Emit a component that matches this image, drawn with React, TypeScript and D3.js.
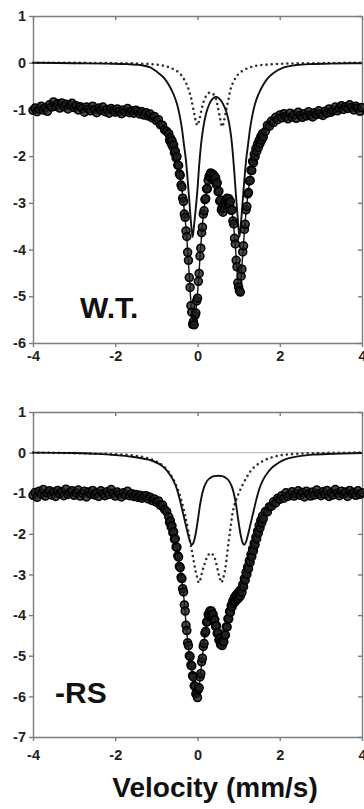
import { useEffect, useRef } from 'react'
import * as d3 from 'd3'

type Pt = [number, number]

const FONT = '"Liberation Sans", Arial, Helvetica, sans-serif'
const velocityTicks = [-4, -2, 0, 2, 4]

// W.T. spectrum, channels in three runs: -4.00..-0.75 (0.05), -0.70..1.60 (0.02), 1.65..4.00 (0.05)
const wtOuterLeft = [
  -1.02, -0.97, -1.05, -0.99, -0.93, -1.01, -0.96, -1.04, -0.90, -0.95,
  -0.84, -0.93, -0.88, -0.97, -0.86, -0.94, -0.89, -0.99, -0.91, -0.87,
  -0.96, -0.92, -1.01, -0.94, -0.98, -1.06, -0.95, -0.99, -1.03, -0.93,
  -1.00, -1.07, -0.97, -1.02, -0.95, -1.05, -1.00, -1.08, -0.98, -1.03,
  -1.06, -0.99, -1.04, -1.09, -1.01, -1.05, -0.98, -1.07, -1.03, -1.08,
  -1.02, -1.04, -1.10, -1.05, -1.12, -1.07, -1.14, -1.10, -1.18, -1.15,
  -1.24, -1.22, -1.33, -1.34, -1.44, -1.47,
]
const wtCentre = [
  -1.52, -1.66, -1.61, -1.73, -1.67, -1.80, -1.76, -1.93, -1.89, -2.04,
  -2.01, -2.19, -2.20, -2.38, -2.41, -2.62, -2.66, -2.90, -2.97, -3.24,
  -3.31, -3.60, -3.72, -4.06, -4.23, -4.60, -4.81, -5.20, -5.34, -5.60,
  -5.54, -5.61, -5.41, -5.36, -5.10, -5.04, -4.68, -4.51, -4.14, -3.97,
  -3.64, -3.52, -3.24, -3.17, -2.93, -2.91, -2.70, -2.70, -2.52, -2.44,
  -2.40, -2.36, -2.47, -2.38, -2.49, -2.41, -2.53, -2.46, -2.61, -2.57,
  -2.76, -2.75, -2.96, -2.94, -3.15, -3.10, -3.20, -3.04, -3.11, -2.95,
  -3.04, -2.90, -3.01, -2.91, -3.04, -2.97, -3.16, -3.15, -3.39, -3.45,
  -3.76, -3.88, -4.23, -4.37, -4.71, -4.80, -4.88, -4.91, -4.57, -4.42,
  -4.05, -3.92, -3.57, -3.46, -3.15, -3.08, -2.81, -2.78, -2.53, -2.52,
  -2.30, -2.31, -2.11, -2.14, -1.96, -2.01, -1.84, -1.90, -1.74, -1.81,
  -1.66, -1.73, -1.58, -1.66, -1.52, -1.59,
]
const wtOuterRight = [
  -1.47, -1.34, -1.36, -1.25, -1.28, -1.17, -1.22,
  -1.12, -1.18, -1.09, -1.15, -1.20, -1.08, -1.16, -1.11, -1.19, -1.06,
  -1.13, -1.17, -1.09, -1.14, -1.05, -1.12, -1.16, -1.07, -1.11, -1.03,
  -1.09, -1.13, -1.04, -1.08, -0.99, -1.06, -1.02, -0.95, -1.03, -0.97,
  -0.92, -1.00, -0.94, -0.98, -0.90, -0.96, -1.01, -0.93, -0.97, -1.04,
  -0.96,
]
const wtFit: Pt[] = [
  [-4, -0.98], [-3.5, -0.92], [-3, -0.95], [-2.5, -1.0], [-2, -1.03], [-1.5, -1.05],
  [-1.2, -1.1], [-1.0, -1.2], [-0.9, -1.3], [-0.8, -1.42], [-0.7, -1.56], [-0.6, -1.77],
  [-0.5, -2.06], [-0.44, -2.33], [-0.38, -2.7], [-0.34, -3.01], [-0.3, -3.35], [-0.26, -3.76],
  [-0.22, -4.27], [-0.18, -4.85], [-0.14, -5.38], [-0.1, -5.6], [-0.06, -5.45], [-0.02, -5.15],
  [0.02, -4.72], [0.06, -4.18], [0.1, -3.68], [0.14, -3.28], [0.18, -2.98], [0.22, -2.75],
  [0.26, -2.57], [0.3, -2.46], [0.35, -2.42], [0.4, -2.45], [0.45, -2.52], [0.5, -2.7],
  [0.55, -2.95], [0.6, -3.15], [0.65, -3.07], [0.7, -2.98], [0.75, -2.95], [0.8, -3.02],
  [0.84, -3.2], [0.88, -3.5], [0.92, -3.93], [0.96, -4.42], [1.0, -4.85], [1.02, -4.93],
  [1.04, -4.85], [1.08, -4.36], [1.12, -3.86], [1.16, -3.4], [1.2, -3.02], [1.26, -2.58],
  [1.32, -2.25], [1.4, -1.95], [1.5, -1.71], [1.6, -1.54], [1.7, -1.4], [1.85, -1.27],
  [2.0, -1.18], [2.3, -1.12], [2.7, -1.1], [3.2, -1.05], [3.6, -0.98], [4, -0.98],
]
const wtSolid: Pt[] = [
  [-4, 0], [-3, -0.01], [-2.2, -0.02], [-1.7, -0.03], [-1.4, -0.05], [-1.15, -0.1],
  [-0.95, -0.22], [-0.8, -0.34], [-0.7, -0.47], [-0.58, -0.68], [-0.5, -0.88], [-0.44, -1.1],
  [-0.38, -1.4], [-0.33, -1.75], [-0.28, -2.1], [-0.24, -2.5], [-0.2, -2.95], [-0.16, -3.4],
  [-0.12, -3.73], [-0.08, -3.45], [-0.04, -3.1], [0, -2.7], [0.04, -2.2], [0.08, -1.8],
  [0.13, -1.45], [0.2, -1.12], [0.28, -0.9], [0.36, -0.78], [0.45, -0.73], [0.54, -0.78],
  [0.62, -0.88], [0.7, -1.05], [0.77, -1.3], [0.82, -1.6], [0.86, -1.95], [0.9, -2.4],
  [0.94, -2.9], [0.98, -3.35], [1.02, -3.73], [1.06, -3.4], [1.1, -2.95], [1.14, -2.5],
  [1.18, -2.1], [1.23, -1.75], [1.28, -1.4], [1.34, -1.1], [1.4, -0.88], [1.48, -0.68],
  [1.6, -0.47], [1.7, -0.34], [1.85, -0.22], [2.1, -0.1], [2.4, -0.05], [2.7, -0.03],
  [3.2, -0.02], [4, -0.01],
]
const wtDotted: Pt[] = [
  [-4, 0], [-2, -0.01], [-1.4, -0.02], [-1, -0.04], [-0.8, -0.07], [-0.65, -0.11],
  [-0.5, -0.18], [-0.4, -0.26], [-0.3, -0.4], [-0.22, -0.56], [-0.15, -0.78], [-0.1, -1.0],
  [-0.05, -1.22], [0, -1.34], [0.05, -1.2], [0.1, -1.0], [0.15, -0.83], [0.22, -0.7],
  [0.3, -0.64], [0.38, -0.67], [0.45, -0.78], [0.5, -0.97], [0.55, -1.2], [0.6, -1.37],
  [0.65, -1.22], [0.7, -1.0], [0.75, -0.8], [0.8, -0.58], [0.88, -0.4], [0.98, -0.26],
  [1.1, -0.17], [1.25, -0.11], [1.45, -0.06], [1.7, -0.04], [2.1, -0.02], [3, -0.01], [4, 0],
]

// -RS spectrum, same channel runs
const rsOuterLeft = [
  -1.05, -0.98, -1.10, -0.95, -1.02, -0.91, -1.07, -0.99, -0.94, -1.04,
  -0.97, -1.08, -0.93, -1.01, -0.96, -1.06, -0.90, -1.03, -0.98, -0.94,
  -1.05, -0.99, -0.92, -1.07, -1.00, -0.95, -1.09, -0.97, -1.02, -0.93,
  -1.04, -0.98, -1.08, -0.94, -1.01, -1.06, -0.96, -1.03, -0.91, -1.00,
  -1.07, -0.97, -1.02, -1.09, -0.99, -1.04, -0.95, -1.06, -1.01, -1.08,
  -1.03, -1.10, -1.05, -1.12, -1.07, -1.06, -1.14, -1.10, -1.18, -1.14,
  -1.22, -1.19, -1.30, -1.29, -1.40, -1.45,
]
const rsCentre = [
  -1.58, -1.72, -1.68, -1.83, -1.80, -1.97, -1.95, -2.13, -2.12, -2.32,
  -2.33, -2.54, -2.57, -2.80, -2.83, -3.07, -3.10, -3.35, -3.43, -3.75,
  -3.90, -4.25, -4.38, -4.68, -4.75, -5.00, -5.02, -5.23, -5.25, -5.49,
  -5.52, -5.74, -5.75, -5.94, -5.90, -6.03, -5.83, -5.79, -5.52, -5.44,
  -5.15, -5.06, -4.77, -4.70, -4.44, -4.40, -4.17, -4.16, -3.98, -4.03,
  -3.90, -3.99, -3.90, -4.03, -3.98, -4.14, -4.11, -4.28, -4.26, -4.45,
  -4.43, -4.61, -4.57, -4.72, -4.65, -4.75, -4.62, -4.66, -4.48, -4.49,
  -4.29, -4.29, -4.09, -4.09, -3.91, -3.93, -3.76, -3.80, -3.65, -3.71,
  -3.56, -3.66, -3.51, -3.62, -3.46, -3.58, -3.41, -3.53, -3.36, -3.44,
  -3.25, -3.30, -3.10, -3.14, -2.95, -3.00, -2.81, -2.86, -2.66, -2.70,
  -2.51, -2.56, -2.37, -2.42, -2.23, -2.27, -2.08, -2.12, -1.93, -1.98,
  -1.79, -1.85, -1.67, -1.73, -1.56, -1.63,
]
const rsOuterRight = [
  -1.45, -1.46, -1.33, -1.32, -1.21, -1.24, -1.12,
  -1.15, -1.06, -1.12, -0.99, -1.08, -1.03, -0.96, -1.07, -1.01, -0.94,
  -1.05, -0.98, -1.09, -0.95, -1.02, -1.07, -0.97, -1.04, -0.92, -1.01,
  -1.06, -0.96, -1.03, -0.93, -1.08, -0.99, -1.04, -0.91, -1.00, -1.06,
  -0.95, -1.02, -0.97, -1.08, -0.93, -1.01, -0.98, -1.05, -0.94, -1.03,
  -0.99,
]
const rsFit: Pt[] = [
  [-4, -1.0], [-3, -1.0], [-2, -1.01], [-1.5, -1.04], [-1.3, -1.08], [-1.1, -1.15],
  [-0.9, -1.26], [-0.8, -1.36], [-0.7, -1.62], [-0.62, -1.85], [-0.54, -2.17], [-0.46, -2.62],
  [-0.4, -3.02], [-0.34, -3.48], [-0.3, -3.95], [-0.26, -4.43], [-0.22, -4.8], [-0.18, -5.07],
  [-0.14, -5.3], [-0.1, -5.57], [-0.06, -5.8], [-0.02, -5.95], [0, -5.98], [0.04, -5.74],
  [0.08, -5.39], [0.12, -5.01], [0.16, -4.65], [0.2, -4.35], [0.24, -4.11], [0.28, -3.98],
  [0.32, -3.94], [0.36, -3.98], [0.4, -4.09], [0.44, -4.23], [0.48, -4.4], [0.52, -4.56],
  [0.56, -4.67], [0.59, -4.71], [0.62, -4.67], [0.66, -4.53], [0.7, -4.34], [0.74, -4.14],
  [0.78, -3.96], [0.82, -3.81], [0.86, -3.7], [0.9, -3.63], [0.96, -3.55], [1.02, -3.48],
  [1.08, -3.37], [1.14, -3.16], [1.2, -2.94], [1.26, -2.72], [1.32, -2.5], [1.4, -2.21],
  [1.48, -1.92], [1.56, -1.67], [1.65, -1.49], [1.75, -1.37], [1.9, -1.24], [2.1, -1.1],
  [2.4, -1.03], [3, -1.0], [4, -1.0],
]
const rsSolid: Pt[] = [
  [-4, 0], [-3, -0.01], [-2.5, -0.03], [-2, -0.06], [-1.6, -0.1], [-1.3, -0.15],
  [-1.1, -0.2], [-0.9, -0.3], [-0.8, -0.38], [-0.7, -0.5], [-0.6, -0.66], [-0.5, -0.9],
  [-0.42, -1.2], [-0.35, -1.5], [-0.28, -1.8], [-0.22, -2.05], [-0.18, -2.2], [-0.14, -2.27],
  [-0.1, -2.22], [-0.06, -2.08], [-0.02, -1.85], [0.02, -1.58], [0.06, -1.3], [0.1, -1.08],
  [0.15, -0.88], [0.22, -0.72], [0.3, -0.63], [0.4, -0.58], [0.5, -0.57], [0.6, -0.58],
  [0.7, -0.63], [0.78, -0.72], [0.85, -0.88], [0.9, -1.08], [0.94, -1.3], [0.98, -1.58],
  [1.02, -1.85], [1.06, -2.08], [1.1, -2.22], [1.14, -2.27], [1.18, -2.2], [1.22, -2.05],
  [1.28, -1.8], [1.35, -1.5], [1.42, -1.2], [1.5, -0.9], [1.6, -0.66], [1.7, -0.5],
  [1.8, -0.38], [1.9, -0.3], [2.1, -0.18], [2.4, -0.1], [2.8, -0.05], [3.3, -0.03], [4, -0.01],
]
const rsDotted: Pt[] = [
  [-4, 0], [-2, -0.04], [-1.5, -0.08], [-1.2, -0.14], [-1, -0.22], [-0.8, -0.36],
  [-0.65, -0.55], [-0.5, -0.85], [-0.4, -1.15], [-0.3, -1.55], [-0.22, -1.95], [-0.15, -2.35],
  [-0.1, -2.62], [-0.05, -2.9], [0, -3.1], [0.03, -3.2], [0.07, -3.12], [0.11, -2.95],
  [0.16, -2.78], [0.22, -2.6], [0.28, -2.5], [0.33, -2.47], [0.38, -2.52], [0.44, -2.66],
  [0.5, -2.93], [0.55, -3.12], [0.58, -3.2], [0.62, -3.1], [0.68, -2.83], [0.72, -2.5],
  [0.76, -2.17], [0.81, -1.8], [0.85, -1.5], [0.91, -1.25], [0.97, -1.08], [1.09, -0.81],
  [1.2, -0.6], [1.3, -0.44], [1.45, -0.3], [1.6, -0.2], [1.8, -0.12], [2, -0.07],
  [2.4, -0.03], [3, -0.01], [4, 0],
]

// channel velocity from run start + index
const channels = (left: number[], centre: number[], right: number[]): Pt[] => [
  ...left.map((v, i) => [-4 + i * 0.05, v] as Pt),
  ...centre.map((v, i) => [-0.7 + i * 0.02, v] as Pt),
  ...right.map((v, i) => [1.65 + i * 0.05, v] as Pt),
]

type Panel = {
  label: string
  labelX: number
  labelY: number
  yMin: number
  top: number
  bottom: number
  labelPad: number
  zeroLine: boolean
  data: Pt[]
  fit: Pt[]
  solid: Pt[]
  dotted: Pt[]
}

const panels: Panel[] = [
  { label: 'W.T.', labelX: 80, labelY: 318, yMin: -6, top: 16, bottom: 343, labelPad: 4, zeroLine: false,
    data: channels(wtOuterLeft, wtCentre, wtOuterRight), fit: wtFit, solid: wtSolid, dotted: wtDotted },
  { label: '-RS', labelX: 55, labelY: 703, yMin: -7, top: 412, bottom: 737, labelPad: 9, zeroLine: true,
    data: channels(rsOuterLeft, rsCentre, rsOuterRight), fit: rsFit, solid: rsSolid, dotted: rsDotted },
]

export default function App() {
  const svgRef = useRef<SVGSVGElement>(null)

  useEffect(() => {
    const svg = d3.select(svgRef.current)
    svg.selectAll('*').remove()
    const x = d3.scaleLinear().domain([-4, 4]).range([33, 362])
    const frame = '#7d7d7d'

    const styleAxis = (ax: any) => {
      ax.select('.domain').attr('stroke', frame).attr('stroke-width', 1.4)
      ax.selectAll('.tick line').attr('stroke', frame).attr('stroke-width', 1.4)
      ax.selectAll('text').attr('fill', '#222').attr('font-size', 14.5).attr('font-weight', 'bold')
      ax.attr('font-family', FONT)
    }

    panels.forEach((p) => {
      const y = d3.scaleLinear().domain([p.yMin, 1]).range([p.bottom, p.top])
      const yTicks = d3.range(p.yMin, 2)
      const line = d3.line<Pt>().x((d) => x(d[0])).y((d) => y(d[1])).curve(d3.curveMonotoneX)
      const g = svg.append('g')

      g.append('g').attr('transform', `translate(0,${p.top})`)
        .call(d3.axisTop(x).tickValues(velocityTicks).tickSize(-4).tickSizeOuter(0).tickFormat(() => ''))
        .call(styleAxis)
      g.append('g').attr('transform', `translate(${x(4)},0)`)
        .call(d3.axisRight(y).tickValues(yTicks).tickSize(-4).tickSizeOuter(0).tickFormat(() => ''))
        .call(styleAxis)
      g.append('g').attr('transform', `translate(0,${p.bottom})`)
        .call(d3.axisBottom(x).tickValues(velocityTicks).tickSize(4).tickSizeOuter(0)
          .tickPadding(p.labelPad).tickFormat((d) => String(d)))
        .call(styleAxis)
      g.append('g').attr('transform', `translate(${x(-4)},0)`)
        .call(d3.axisLeft(y).tickValues(yTicks).tickSize(4).tickSizeOuter(0)
          .tickPadding(3).tickFormat((d) => String(d)))
        .call(styleAxis)

      if (p.zeroLine) {
        g.append('line')
          .attr('x1', x(-4)).attr('x2', x(4)).attr('y1', y(0)).attr('y2', y(0))
          .attr('stroke', '#a0a0a0').attr('stroke-width', 0.8)
      }

      g.append('path').datum(p.dotted)
        .attr('fill', 'none').attr('stroke', '#333').attr('stroke-width', 2.6)
        .attr('stroke-linecap', 'round').attr('stroke-dasharray', '0 5.2')
        .attr('d', line)

      g.append('path').datum(p.solid)
        .attr('fill', 'none').attr('stroke', '#111').attr('stroke-width', 1.9)
        .attr('d', line)

      g.append('path').datum(p.fit)
        .attr('fill', 'none').attr('stroke', '#111').attr('stroke-width', 1.4)
        .attr('d', line)

      g.append('g').selectAll('circle').data(p.data).join('circle')
        .attr('cx', (d) => x(d[0])).attr('cy', (d) => y(d[1])).attr('r', 4)
        .attr('fill', '#1e1e1e').attr('fill-opacity', 0.8)
        .attr('stroke', '#000').attr('stroke-width', 1.5)

      g.append('text')
        .attr('x', p.labelX).attr('y', p.labelY)
        .attr('font-family', FONT).attr('font-weight', 'bold').attr('font-size', 30)
        .attr('fill', '#111').text(p.label)
    })

    svg.append('text')
      .attr('x', 215).attr('y', 797).attr('text-anchor', 'middle')
      .attr('font-family', FONT).attr('font-weight', 'bold').attr('font-size', 28)
      .attr('fill', '#111').text('Velocity (mm/s)')
  }, [])

  return (
    <svg ref={svgRef} width={364} height={809}
      style={{ position: 'absolute', left: 0, top: 0, display: 'block', background: '#fff' }} />
  )
}
